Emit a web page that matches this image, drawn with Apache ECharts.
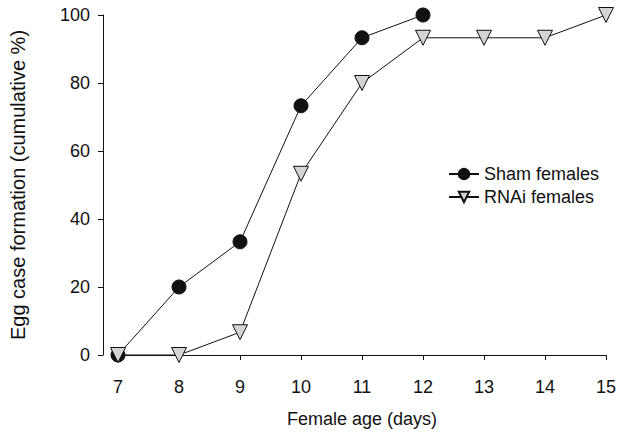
<!DOCTYPE html>
<html>
<head>
<meta charset="utf-8">
<script src="https://cdn.jsdelivr.net/npm/echarts@6/dist/echarts.min.js"></script>
<style>
  html, body { margin: 0; padding: 0; background: #fff; }
  #chart { width: 629px; height: 436px; }
</style>
</head>
<body>
<div id="chart"></div>
<script>
var days = [7, 8, 9, 10, 11, 12, 13, 14, 15];
var shamDays = [7, 8, 9, 10, 11, 12];
var shamValues = [0, 20, 33.3, 73.3, 93.3, 100];
var rnaiDays = [7, 8, 9, 10, 11, 12, 13, 14, 15];
var rnaiValues = [0, 0, 6.7, 53.3, 80, 93.3, 93.3, 93.3, 100];
var yTicks = [0, 20, 40, 60, 80, 100];

function pairs(xs, ys) {
  return xs.map(function(x, i) { return [x, ys[i]]; });
}

var font = 'Liberation Sans, Arial, sans-serif';
var ink = '#111';

var chart = echarts.init(document.getElementById('chart'), null, { renderer: 'svg' });

chart.setOption({
  animation: false,
  textStyle: { fontFamily: font },
  grid: { left: 118, right: 23, top: 15, bottom: 81 },
  legend: {
    orient: 'vertical',
    left: 443,
    top: 160,
    itemWidth: 30,
    itemHeight: 13,
    itemGap: 5,
    textStyle: { color: ink, fontSize: 18, fontFamily: font },
    data: ['Sham females', 'RNAi females']
  },
  xAxis: {
    type: 'value',
    min: days[0],
    max: days[days.length - 1],
    interval: 1,
    offset: 11,
    name: 'Female age (days)',
    nameLocation: 'middle',
    nameGap: 44,
    nameTextStyle: { color: ink, fontSize: 18 },
    axisLine: { lineStyle: { color: ink, width: 1 } },
    axisTick: { length: 5, lineStyle: { color: ink } },
    axisLabel: { color: ink, fontSize: 18, margin: 12 },
    splitLine: { show: false }
  },
  yAxis: {
    type: 'value',
    min: yTicks[0],
    max: yTicks[yTicks.length - 1],
    interval: 20,
    offset: 15,
    name: 'Egg case formation (cumulative %)',
    nameLocation: 'middle',
    nameGap: 75,
    nameTextStyle: { color: ink, fontSize: 20 },
    axisLine: { show: true, lineStyle: { color: ink, width: 1 } },
    axisTick: { show: true, length: 5, lineStyle: { color: ink } },
    axisLabel: { color: ink, fontSize: 18, margin: 13 },
    splitLine: { show: false }
  },
  series: [
    {
      name: 'Sham females',
      type: 'line',
      data: pairs(shamDays, shamValues),
      symbol: 'circle',
      symbolSize: 14,
      lineStyle: { color: ink, width: 1 },
      itemStyle: { color: '#111', borderColor: '#111', borderWidth: 1 }
    },
    {
      name: 'RNAi females',
      type: 'line',
      data: pairs(rnaiDays, rnaiValues),
      symbol: 'triangle',
      symbolRotate: 180,
      symbolSize: 15,
      lineStyle: { color: ink, width: 1 },
      itemStyle: { color: '#d4d4d4', borderColor: '#111', borderWidth: 1 }
    }
  ]
});
</script>
</body>
</html>
